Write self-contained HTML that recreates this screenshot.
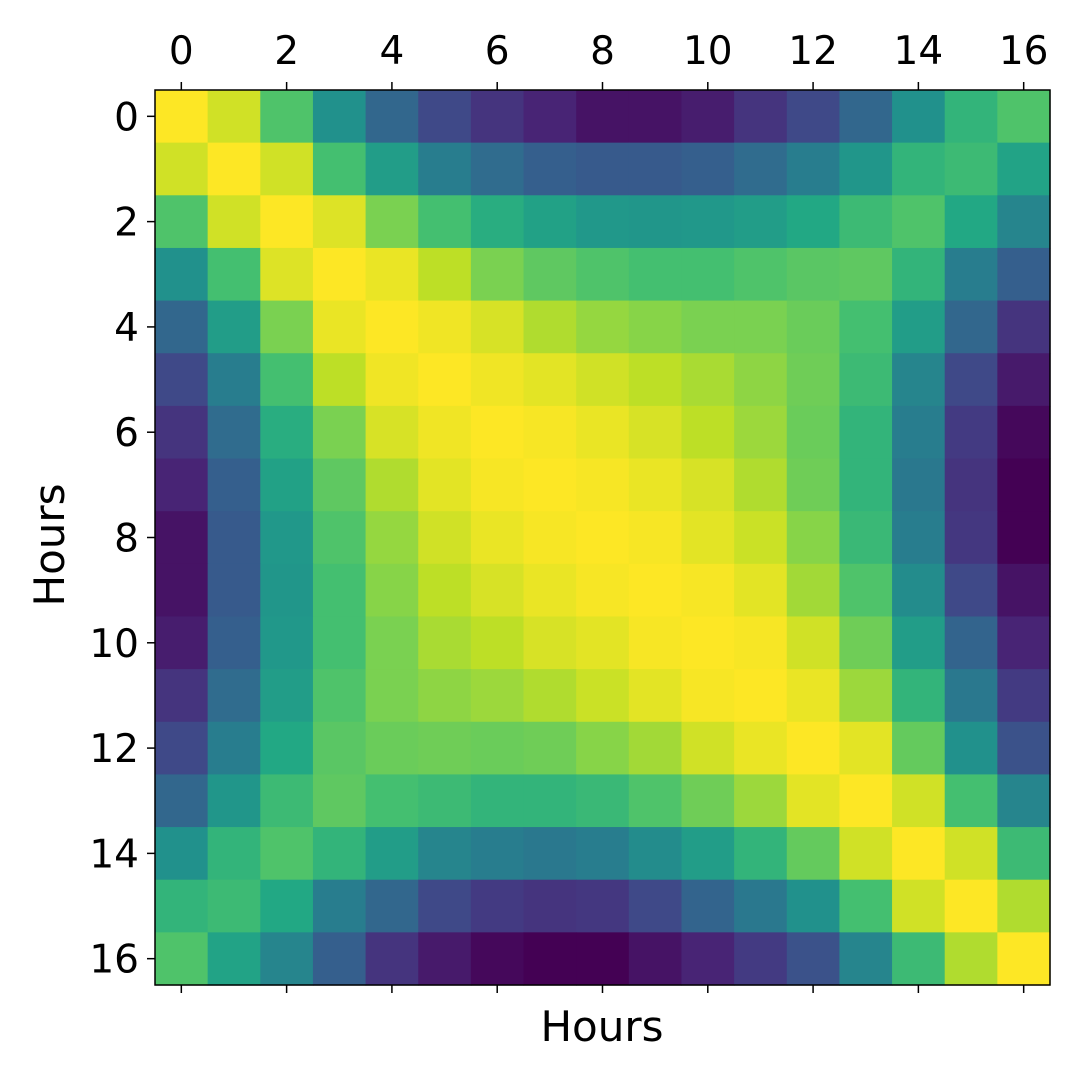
<!DOCTYPE html>
<html><head><meta charset="utf-8">
<style>
html,body{margin:0;padding:0;background:#fff;}
svg text{font-family:"DejaVu Sans","Liberation Sans",sans-serif;fill:#000;}
</style></head>
<body>
<svg id="chart" width="1080" height="1080" viewBox="0 0 1080 1080" xmlns="http://www.w3.org/2000/svg">
<g id="cells"></g>
<rect x="155" y="90" width="895" height="895" fill="none" stroke="#000" stroke-width="1.5"/>
<g id="axes"></g>
<text x="602" y="1041" font-size="42" text-anchor="middle">Hours</text>
<text x="0" y="0" font-size="42" text-anchor="middle" transform="translate(64,545) rotate(-90)">Hours</text>
</svg>
<script>
const hours = [0,1,2,3,4,5,6,7,8,9,10,11,12,13,14,15,16];
const tickLabels = [0,2,4,6,8,10,12,14,16];
const values = [
[1,0.93,0.72,0.5,0.33,0.22,0.15,0.1,0.05,0.05,0.08,0.15,0.22,0.33,0.5,0.65,0.72],
[0.93,1,0.93,0.7,0.55,0.42,0.35,0.3,0.28,0.28,0.3,0.35,0.42,0.52,0.65,0.68,0.58],
[0.72,0.93,1,0.95,0.8,0.7,0.62,0.57,0.53,0.52,0.53,0.55,0.6,0.68,0.72,0.6,0.45],
[0.5,0.7,0.95,1,0.97,0.9,0.8,0.75,0.72,0.7,0.7,0.72,0.74,0.75,0.65,0.42,0.3],
[0.33,0.55,0.8,0.97,1,0.98,0.94,0.88,0.84,0.82,0.8,0.8,0.77,0.7,0.55,0.33,0.15],
[0.22,0.42,0.7,0.9,0.98,1,0.98,0.96,0.93,0.9,0.87,0.83,0.78,0.68,0.45,0.22,0.07],
[0.15,0.35,0.62,0.8,0.94,0.98,1,0.99,0.97,0.94,0.9,0.85,0.77,0.65,0.42,0.17,0.02],
[0.1,0.3,0.57,0.75,0.88,0.96,0.99,1,0.99,0.97,0.94,0.88,0.78,0.65,0.4,0.15,0.0],
[0.05,0.28,0.53,0.72,0.84,0.93,0.97,0.99,1,0.99,0.96,0.92,0.82,0.67,0.42,0.16,0.0],
[0.05,0.28,0.52,0.7,0.82,0.9,0.94,0.97,0.99,1,0.99,0.96,0.86,0.72,0.48,0.22,0.05],
[0.08,0.3,0.53,0.7,0.8,0.87,0.9,0.94,0.96,0.99,1,0.99,0.93,0.78,0.55,0.32,0.1],
[0.15,0.35,0.55,0.72,0.8,0.83,0.85,0.88,0.92,0.96,0.99,1,0.97,0.85,0.65,0.4,0.17],
[0.22,0.42,0.6,0.74,0.77,0.78,0.77,0.78,0.82,0.86,0.93,0.97,1,0.96,0.76,0.5,0.25],
[0.33,0.52,0.68,0.75,0.7,0.68,0.65,0.65,0.67,0.72,0.78,0.85,0.96,1,0.93,0.7,0.45],
[0.5,0.65,0.72,0.65,0.55,0.45,0.42,0.4,0.42,0.48,0.55,0.65,0.76,0.93,1,0.93,0.68],
[0.65,0.68,0.6,0.42,0.33,0.22,0.17,0.15,0.16,0.22,0.32,0.4,0.5,0.7,0.93,1,0.88],
[0.72,0.58,0.45,0.3,0.15,0.07,0.02,0.0,0.0,0.05,0.1,0.17,0.25,0.45,0.68,0.88,1]
];
const NS='http://www.w3.org/2000/svg';
const L=155,T=90,W=895,H=895,n=hours.length,cw=W/n,ch=H/n;
const xPos=i=>L+(i+0.5)*cw, yPos=i=>T+(i+0.5)*ch;
const vir=[[68,1,84],[72,36,117],[65,68,135],[53,95,141],[42,120,142],[33,145,140],[34,168,132],[68,191,112],[122,209,81],[189,223,38],[253,231,37]];
function color(v){v=Math.max(0,Math.min(1,v));const p=v*10,i=Math.min(9,Math.floor(p)),f=p-i;const a=vir[i],b=vir[i+1];return 'rgb('+a.map((c,k)=>Math.round(c+(b[k]-c)*f)).join(',')+')';}
const cells=document.getElementById('cells');
values.forEach((row,r)=>row.forEach((v,c)=>{
 const el=document.createElementNS(NS,'rect');
 el.setAttribute('x',xPos(c)-cw/2);el.setAttribute('y',yPos(r)-ch/2);
 el.setAttribute('width',cw+0.6);el.setAttribute('height',ch+0.6);
 el.setAttribute('fill',color(v));
 
 
 cells.appendChild(el);
}));
const axes=document.getElementById('axes');
function line(x1,y1,x2,y2,name){const e=document.createElementNS(NS,'line');e.setAttribute('x1',x1);e.setAttribute('y1',y1);e.setAttribute('x2',x2);e.setAttribute('y2',y2);e.setAttribute('stroke','#000');e.setAttribute('stroke-width','1.5');


axes.appendChild(e);}
function text(x,y,s,anchor,name){const e=document.createElementNS(NS,'text');e.setAttribute('x',x);e.setAttribute('y',y);e.setAttribute('font-size','39');e.setAttribute('text-anchor',anchor);e.textContent=s;


axes.appendChild(e);}
tickLabels.forEach(t=>{
 const x=xPos(t),y=yPos(t);
 line(x,T,x,T-8,'x-tick-top');
 line(x,T+H,x,T+H+8,'x-tick-bottom');
 line(L,y,L-8,y,'y-tick');
 text(x,T-26,String(t),'middle','x-tick-label');
 text(L-16,y+14,String(t),'end','y-tick-label');
});
</script>
</body></html>
